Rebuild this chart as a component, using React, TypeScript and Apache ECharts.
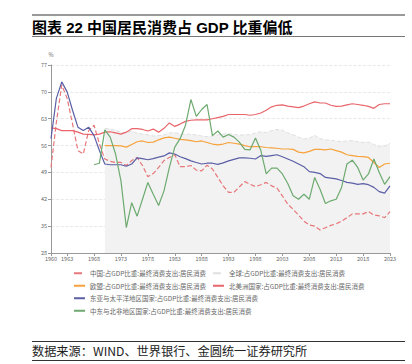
import React, { useEffect, useRef } from "react";
import * as echarts from "echarts";

const years: number[] = [];
for (let y = 1960; y <= 2023; y++) years.push(y);

const N = null;

const china = [
  50.3, 62.1, 71.8, 68.3, 61.7, 54.7, 53.8, 59.9, 61.3, 56.4,
  52.5, 51.9, 51.6, 51.6, 50.8, 52.1, 52.9, 50.8, 47.9, 48.7,
  50.3, 52.1, 52.9, 53.6, 50.5, 50.5, 50.8, 49.6, 49.4, 50.9,
  49.9, 47.7, 45.5, 43.8, 43.8, 45.2, 46.6, 45.9, 45.3, 45.8,
  46.4, 45.5, 44.9, 42.9, 40.7, 39.4, 37.9, 36.3, 35.3, 35.0,
  34.0, 34.6, 35.2, 35.6, 36.3, 37.2, 38.2, 38.2, 38.2, 38.8,
  37.9, 37.7, 37.2, 38.8,
];

const globalVals = [
  N, N, N, N, N, N, N, N, N, N,
  60.5, 60.3, 60.0, 59.5, 59.3, 59.8, 59.2, 59.0, 58.8, 58.5,
  58.6, 58.8, 59.3, 59.4, 59.0, 59.0, 58.9, 58.8, 58.5, 58.3,
  58.5, 58.8, 59.0, 59.1, 58.9, 58.7, 58.8, 58.8, 59.3, 59.6,
  59.4, 59.9, 60.2, 60.0, 59.3, 58.8, 58.2, 57.7, 57.9, 58.7,
  57.8, 57.5, 57.4, 57.2, 57.0, 57.2, 57.3, 57.0, 56.8, 56.9,
  56.3, 55.6, 55.9, 56.6,
];

const eu = [
  N, N, N, N, N, N, N, N, N, N,
  56.0, 56.0, 56.0, 55.9, 55.6, 56.3, 57.0, 57.2, 56.8, 56.9,
  57.5, 58.0, 58.2, 57.9, 57.6, 57.5, 57.3, 57.0, 57.2, 56.8,
  56.4, 56.2, 56.4, 56.8, 56.6, 56.4, 56.0, 55.7, 55.7, 55.7,
  55.5, 55.4, 55.3, 55.1, 55.1, 55.0, 54.3, 54.1, 54.5, 55.0,
  55.0, 54.9, 55.1, 54.7, 54.3, 53.6, 53.4, 53.2, 53.1, 52.9,
  51.6, 50.3, 51.2, 51.4,
];

const northAmerica = [
  60.6, 60.4, 59.9, 59.9, 59.9, 59.5, 59.0, 58.9, 58.8, 59.0,
  59.5, 59.6, 59.3, 59.0, 59.5, 60.4, 60.4, 60.2, 59.8, 60.3,
  59.5, 60.5, 61.9, 61.0, 61.6, 62.3, 62.6, 62.7, 62.7, 62.7,
  63.0, 63.3, 63.6, 64.1, 64.1, 64.1, 64.1, 63.9, 64.1, 64.5,
  65.2, 66.1, 66.5, 66.6, 66.3, 66.1, 65.9, 66.3, 66.9, 67.4,
  67.1, 67.1, 66.5, 66.2, 66.3, 66.6, 66.9, 66.7, 66.5, 66.2,
  65.7, 66.7, 66.9, 66.9,
];

const eastAsia = [
  57.8, 68.3, 72.6, 70.0, 65.2, 60.8, 59.9, 60.8, 58.6, 54.7,
  51.2, 51.0, 51.0, 51.0, 50.6, 51.2, 52.8, 52.6, 52.3, 52.6,
  53.0, 53.3, 54.1, 53.8, 53.1, 52.6, 52.0, 51.6, 51.2, 51.4,
  51.4, 51.1, 51.5, 52.0, 52.4, 52.8, 52.8, 52.7, 52.5, 53.4,
  53.2, 53.4, 53.6, 53.1, 52.5, 51.9, 51.2, 50.5, 49.2, 49.0,
  48.7, 47.7, 47.5, 47.3, 46.9, 46.4, 46.2, 45.9, 46.1, 45.8,
  45.1, 44.0, 43.6, 45.5,
];

const mena = [
  N, N, N, N, N, N, N, N, 51.0, 51.4,
  60.1, 58.2, 53.8, 46.8, 34.6, 41.1, 37.6, 42.0, 46.4, 43.3,
  40.4, 44.2, 50.3, 55.6, 57.8, 61.3, 68.0, 63.6, 65.4, 66.7,
  58.6, 59.8, 58.2, 58.9, 58.2, 56.9, 55.0, 54.9, 58.0, 54.7,
  48.6, 50.1, 50.1, 48.6, 46.1, 42.9, 42.0, 43.3, 42.0, 47.7,
  44.6, 40.9, 41.6, 42.0, 45.1, 51.2, 52.2, 50.3, 47.0, 48.6,
  52.5, 49.0, 45.9, 47.9,
];

const NAME_CN = "中国:占GDP比重:最终消费支出:居民消费";
const NAME_GL = "全球:占GDP比重:最终消费支出:居民消费";
const NAME_EU = "欧盟:占GDP比重:最终消费支出:居民消费";
const NAME_NA = "北美洲国家:占GDP比重:最终消费支出:居民消费";
const NAME_EA = "东亚与太平洋地区国家:占GDP比重:最终消费支出:居民消费";
const NAME_ME = "中东与北非地区国家:占GDP比重:最终消费支出:居民消费";

const TITLE = "图表 22 中国居民消费占 GDP 比重偏低";
const SOURCE = "数据来源：WIND、世界银行、金圆统一证券研究所";

const FONT = '"Noto Sans CJK SC", "Noto Sans", sans-serif';

export default function App() {
  const ref = useRef<HTMLDivElement>(null);
  useEffect(() => {
    if (!ref.current) return;
    const chart = echarts.init(ref.current, null, { renderer: "svg" });
    const showLabel = (index: number, value: string) =>
      index === 0 || (Number(value) - 1963) % 5 === 0;
    const legendBase = {
      left: 73,
      itemWidth: 11,
      itemHeight: 6,
      itemGap: 6,
      padding: 0,
      itemStyle: { opacity: 0 },
      textStyle: { fontSize: 6.5, color: "#666", fontFamily: FONT },
    };
    const line = (name: string, data: any[], color: string, dashed = false) => ({
      name,
      type: "line",
      data,
      symbol: "none",
      connectNulls: false,
      lineStyle: { color, width: 1.2, type: dashed ? "dashed" : "solid" },
      itemStyle: { color },
      z: 3,
    });
    chart.setOption({
      animation: false,
      textStyle: { fontFamily: FONT },
      grid: { left: 51, right: 22, top: 65, bottom: 111 },
      xAxis: {
        type: "category",
        data: years.map(String),
        boundaryGap: false,
        axisLine: { lineStyle: { color: "#999", width: 1 } },
        axisTick: { interval: showLabel, length: 3, lineStyle: { color: "#999" } },
        axisLabel: { interval: showLabel, fontSize: 5.5, color: "#666", margin: 3 },
      },
      yAxis: {
        type: "value",
        min: 28,
        max: 77,
        interval: 7,
        name: "%",
        nameGap: 7,
        nameTextStyle: { fontSize: 5.5, color: "#666" },
        axisLine: { show: true, lineStyle: { color: "#999", width: 1 } },
        axisTick: { show: true, length: 3, lineStyle: { color: "#999" } },
        axisLabel: { fontSize: 5.5, color: "#666", margin: 4 },
        splitLine: { lineStyle: { color: "#e3e3e3", type: "dashed", width: 0.8 } },
      },
      legend: [
        { ...legendBase, top: 270, data: [NAME_CN, NAME_GL] },
        { ...legendBase, top: 282.5, data: [NAME_EU, NAME_NA] },
        { ...legendBase, top: 295, data: [NAME_EA] },
        { ...legendBase, top: 307.5, data: [NAME_ME] },
      ],
      series: [
        {
          name: NAME_GL,
          type: "line",
          data: globalVals,
          symbol: "none",
          lineStyle: { color: "#e0e0e0", width: 1, type: "dashed" },
          itemStyle: { color: "#e0e0e0" },
          areaStyle: { color: "#f2f2f2", opacity: 1, origin: "start" },
          z: 1,
        },
        line(NAME_CN, china, "#e8777a", true),
        line(NAME_EU, eu, "#f7a23b"),
        line(NAME_NA, northAmerica, "#e9656b"),
        line(NAME_EA, eastAsia, "#5b5fa5"),
        line(NAME_ME, mena, "#6daa6f"),
      ],
      graphic: [
        { type: "line", shape: { x1: 32, y1: 15, x2: 405, y2: 15 }, style: { stroke: "#777", lineWidth: 1.5 } },
        { type: "line", shape: { x1: 32, y1: 36.5, x2: 405, y2: 36.5 }, style: { stroke: "#777", lineWidth: 1 } },
        {
          type: "text",
          x: 32,
          y: 27,
          style: {
            text: TITLE,
            fill: "#000",
            font: 'bold 15px "Liberation Sans", "Noto Sans CJK SC", sans-serif',
            textVerticalAlign: "middle",
          },
        },
        { type: "line", shape: { x1: 32, y1: 341.5, x2: 405, y2: 341.5 }, style: { stroke: "#333", lineWidth: 1 } },
        { type: "line", shape: { x1: 32, y1: 360.5, x2: 405, y2: 360.5 }, style: { stroke: "#333", lineWidth: 1 } },
        {
          type: "text",
          x: 32,
          y: 351,
          style: {
            text: SOURCE,
            fill: "#222",
            font: '12.2px "Noto Sans CJK SC", sans-serif',
            textVerticalAlign: "middle",
          },
        },
      ],
    });
    return () => chart.dispose();
  }, []);
  return (
    <div
      ref={ref}
      style={{ position: "absolute", left: 0, top: 0, width: 412, height: 364 }}
    />
  );
}
